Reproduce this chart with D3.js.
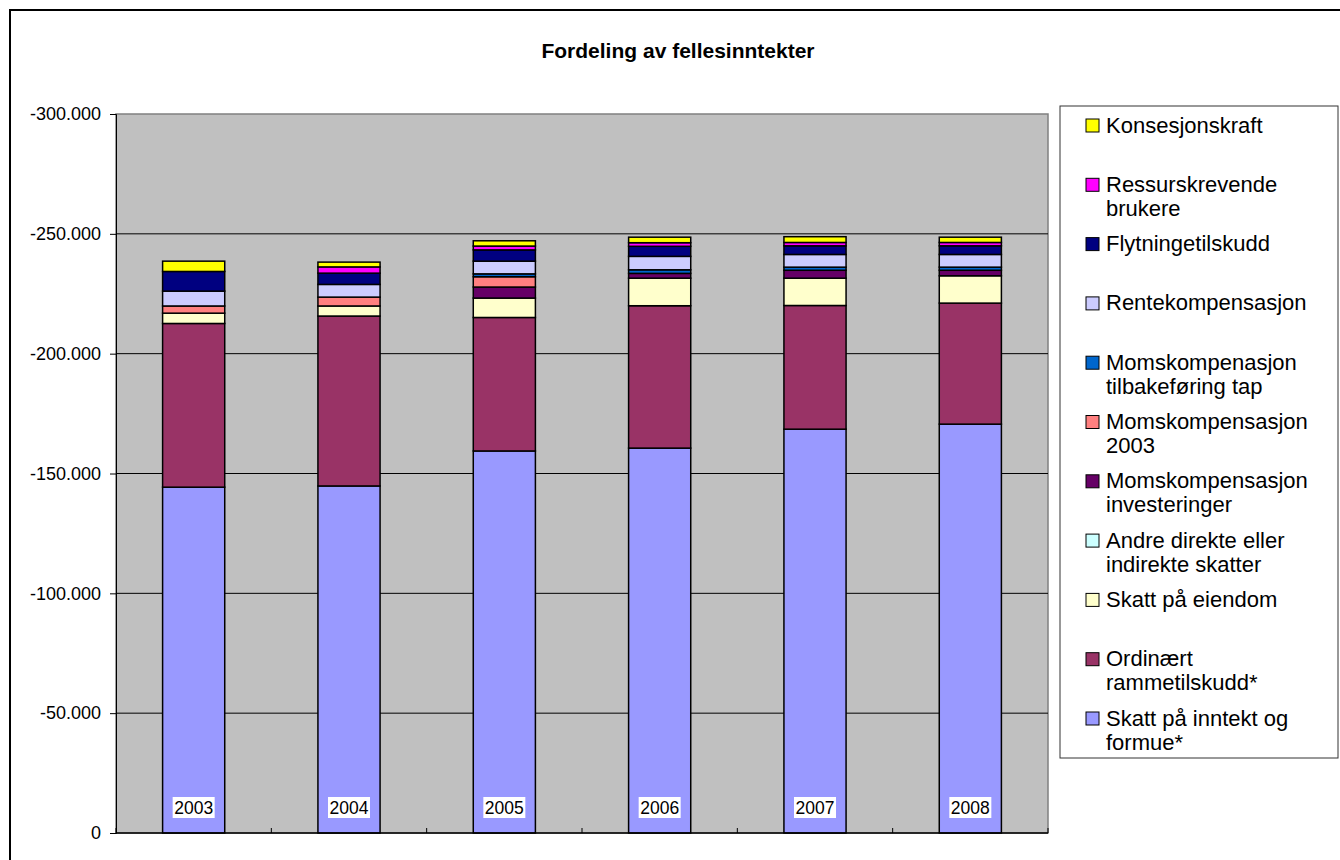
<!DOCTYPE html>
<html>
<head>
<meta charset="utf-8">
<script src="https://cdn.jsdelivr.net/npm/d3@7"></script>
<style>
  body { margin: 0; background: #fff; }
  text { font-family: "Liberation Sans", Arial, sans-serif; }
</style>
</head>
<body>
<svg id="chart" width="1340" height="860"></svg>
<script>
// data (kr, negative = inntekt)
const years = ["2003", "2004", "2005", "2006", "2007", "2008"];
const series = ["Skatt på inntekt og formue*", "Ordinært rammetilskudd*", "Skatt på eiendom",
  "Andre direkte eller indirekte skatter", "Momskompensasjon investeringer", "Momskompensasjon 2003",
  "Momskompenasjon tilbakeføring tap", "Rentekompensasjon", "Flytningetilskudd",
  "Ressurskrevende brukere", "Konsesjonskraft"];
const skattInntekt   = [-144300, -144800, -159400, -160600, -168500, -170600];
const rammetilskudd  = [-68300, -70900, -55700, -59400, -51600, -50500];
const skattEiendom   = [-4300, -4200, -8100, -11500, -11400, -11400];
const andreSkatter   = [0, 0, 0, 0, 0, 0];
const momsInv        = [0, 0, -4600, -2000, -3300, -2300];
const moms2003       = [-3000, -3700, -4300, 0, 0, 0];
const momsTilbake    = [0, 0, -1200, -1500, -1300, -1300];
const renteKomp      = [-6200, -5300, -5300, -5600, -5300, -5300];
const flytning       = [-8200, -4700, -4700, -4200, -3600, -3600];
const ressurs        = [0, -2600, -1600, -1500, -1400, -1400];
const konsesjon      = [-4300, -2000, -2200, -2300, -2400, -2200];
const yTicks = [0, -50000, -100000, -150000, -200000, -250000, -300000];

const colors = ["#9999FF", "#993366", "#FFFFCC", "#CCFFFF", "#660066", "#FF8080",
  "#0066CC", "#CCCCFF", "#000080", "#FF00FF", "#FFFF00"];

const allValues = [skattInntekt, rammetilskudd, skattEiendom, andreSkatter, momsInv, moms2003,
  momsTilbake, renteKomp, flytning, ressurs, konsesjon];

const table = years.map((yr, i) => {
  const row = { year: yr };
  series.forEach((s, j) => { row[s] = allValues[j][i]; });
  return row;
});

const nf = d3.formatLocale({ decimal: ",", thousands: ".", grouping: [3], currency: ["", ""], minus: "-" }).format(",.0f");

const svg = d3.select("#chart");
const pLeft = 116, pRight = 1048, pTop = 114, pBottom = 833;

// outer frame
svg.append("rect").attr("x", 10).attr("y", 10).attr("width", 1340).attr("height", 860)
  .attr("fill", "#fff").attr("stroke", "#000").attr("stroke-width", 2);

svg.append("text").attr("x", 678).attr("y", 58).attr("text-anchor", "middle")
  .attr("font-size", 21).attr("font-weight", "bold").text("Fordeling av fellesinntekter");

// plot area
svg.append("rect").attr("x", pLeft).attr("y", pTop).attr("width", pRight - pLeft).attr("height", pBottom - pTop)
  .attr("fill", "#C0C0C0").attr("stroke", "#808080").attr("stroke-width", 1.5);

const x = d3.scaleBand().domain(years).range([pLeft, pRight]).paddingInner(0.6).paddingOuter(0.3);
const y = d3.scaleLinear().domain([0, -300000]).range([pBottom, pTop]);

// gridlines
svg.append("g").selectAll("line").data(yTicks.filter(t => t !== 0 && t !== -300000)).enter()
  .append("line")
  .attr("x1", pLeft).attr("x2", pRight)
  .attr("y1", d => y(d)).attr("y2", d => y(d))
  .attr("stroke", "#000").attr("stroke-width", 1);

const stack = d3.stack().keys(series).offset(d3.stackOffsetDiverging);
const stacked = stack(table);

const layers = svg.append("g").selectAll("g").data(stacked).enter()
  .append("g").attr("fill", (d, i) => colors[i]);

layers.selectAll("rect")
  .data(d => d.filter(p => p[1] !== p[0]))
  .enter().append("rect")
  .attr("x", d => x(d.data.year))
  .attr("width", x.bandwidth())
  .attr("y", d => Math.min(y(d[0]), y(d[1])))
  .attr("height", d => Math.abs(y(d[0]) - y(d[1])))
  .attr("stroke", "#000").attr("stroke-width", 1.5);

// year labels in bars
const lab = svg.append("g").selectAll("g").data(years).enter().append("g");
lab.append("rect")
  .attr("x", d => x(d) + x.bandwidth() / 2 - 21).attr("y", 797)
  .attr("width", 42).attr("height", 21).attr("fill", "#fff");
lab.append("text")
  .attr("x", d => x(d) + x.bandwidth() / 2).attr("y", 814)
  .attr("text-anchor", "middle").attr("font-size", 17.5).text(d => d);

// axes
const yAxis = d3.axisLeft(y).tickValues(yTicks).tickSize(6).tickPadding(9).tickFormat(nf);
const gy = svg.append("g").attr("transform", "translate(" + pLeft + ",0)").call(yAxis);
gy.select(".domain").attr("stroke", "#000");
gy.selectAll("line").attr("stroke", "#000");
gy.selectAll("text").attr("font-size", 18).attr("font-family", "Liberation Sans, Arial, sans-serif");

svg.append("line").attr("x1", pLeft).attr("x2", pRight).attr("y1", pBottom).attr("y2", pBottom)
  .attr("stroke", "#000").attr("stroke-width", 1.5);
const step = x.step();
svg.append("g").selectAll("line").data(d3.range(years.length + 1)).enter()
  .append("line")
  .attr("x1", d => pLeft + d * step).attr("x2", d => pLeft + d * step)
  .attr("y1", pBottom - 5).attr("y2", pBottom)
  .attr("stroke", "#000");

// legend
svg.append("rect").attr("x", 1060).attr("y", 106).attr("width", 278).attr("height", 652)
  .attr("fill", "#fff").attr("stroke", "#333").attr("stroke-width", 1);

const legendLines = [["Konsesjonskraft"], ["Ressurskrevende", "brukere"], ["Flytningetilskudd"],
  ["Rentekompensasjon"], ["Momskompenasjon", "tilbakeføring tap"], ["Momskompensasjon", "2003"],
  ["Momskompensasjon", "investeringer"], ["Andre direkte eller", "indirekte skatter"],
  ["Skatt på eiendom"], ["Ordinært", "rammetilskudd*"], ["Skatt på inntekt og", "formue*"]];

const leg = svg.append("g").selectAll("g").data(legendLines).enter().append("g")
  .attr("transform", (d, i) => "translate(1086," + (125.5 + i * 59.3) + ")");
leg.append("rect").attr("x", 0).attr("y", -6.5).attr("width", 13).attr("height", 13)
  .attr("fill", (d, i) => colors[series.length - 1 - i]).attr("stroke", "#000").attr("stroke-width", 1);
leg.each(function (d) {
  const t = d3.select(this).append("text").attr("x", 20).attr("y", 7).attr("font-size", 22);
  d.forEach((line, k) => {
    t.append("tspan").attr("x", 20).attr("dy", k === 0 ? 0 : 24).text(line);
  });
});
</script>
</body>
</html>
